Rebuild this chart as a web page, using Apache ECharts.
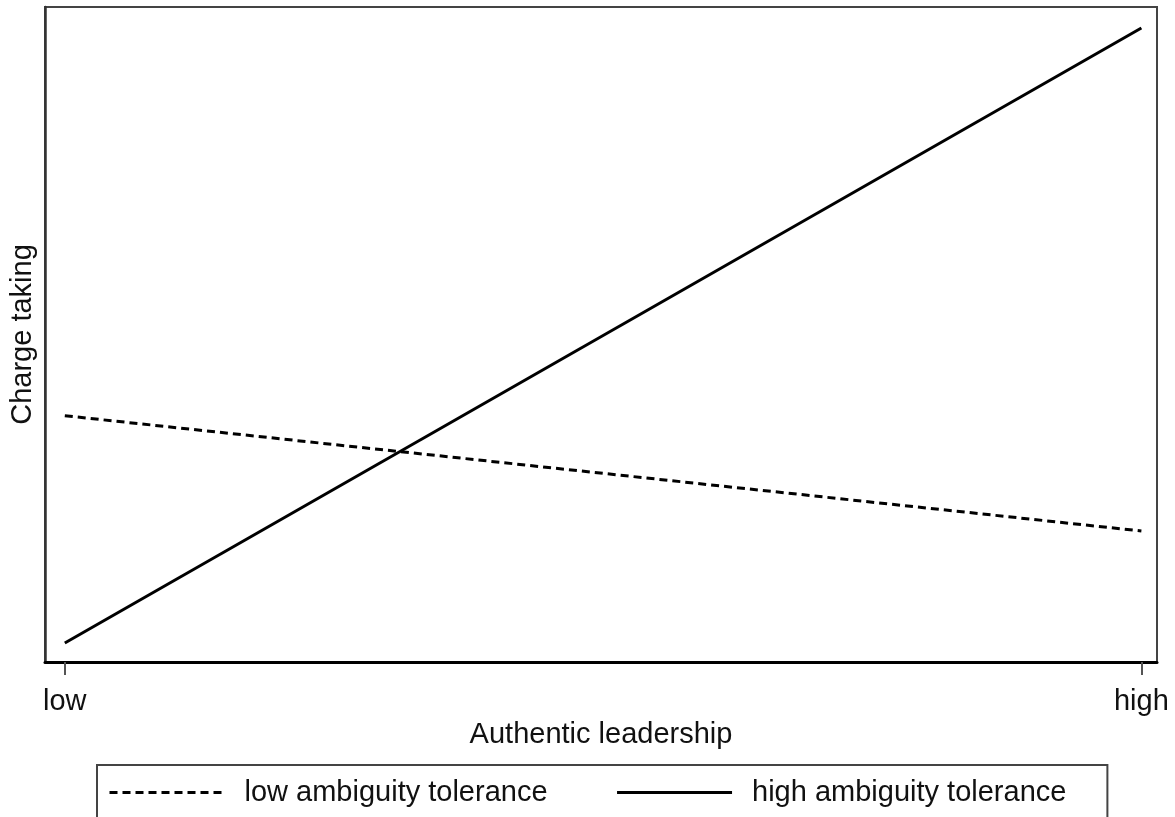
<!DOCTYPE html>
<html>
<head>
<meta charset="utf-8">
<script src="https://cdn.jsdelivr.net/npm/echarts@6/dist/echarts.min.js"></script>
<style>
html,body{margin:0;padding:0;background:#fff;}
#chart{width:1175px;height:817px;}
</style>
</head>
<body>
<div id="chart"></div>
<script>
// x positions: 0 = low, 1 = high authentic leadership
const xValues = [0, 1];
const xTickLabels = ['low', 'high'];
const seriesNames = ['low ambiguity tolerance', 'high ambiguity tolerance'];
const lowAmbiguity = [37.6, 20.0];
const highAmbiguity = [2.9, 96.8];

const FONT = 'Liberation Sans, Arial, sans-serif';
const chart = echarts.init(document.getElementById('chart'));

function toPairs(ys) { return xValues.map((x, i) => [x, ys[i]]); }

chart.setOption({
  animation: false,
  backgroundColor: '#ffffff',
  grid: {
    left: 44, right: 18, top: 7, bottom: 155,
    show: true, borderColor: '#444', borderWidth: 2
  },
  xAxis: {
    type: 'value',
    min: -0.0184, max: 1.0145,
    name: 'Authentic leadership',
    nameLocation: 'middle',
    nameGap: 52,
    nameTextStyle: { fontFamily: FONT, fontSize: 29, color: '#111' },
    axisLine: { show: true, onZero: false, lineStyle: { color: '#000', width: 3 } },
    axisTick: { show: true, customValues: xValues, length: 13, lineStyle: { color: '#555', width: 2 } },
    axisLabel: {
      customValues: xValues,
      formatter: v => xTickLabels[xValues.indexOf(v)] ?? '',
      fontFamily: FONT, fontSize: 29, color: '#111', margin: 25
    },
    splitLine: { show: false }
  },
  yAxis: {
    type: 'value',
    min: 0, max: 100,
    name: 'Charge taking',
    nameLocation: 'middle',
    nameGap: 8,
    nameTextStyle: { fontFamily: FONT, fontSize: 29, color: '#111' },
    axisLine: { show: true, onZero: false, lineStyle: { color: '#333', width: 2.5 } },
    axisTick: { show: false },
    axisLabel: { show: false },
    splitLine: { show: false }
  },
  legend: {
    left: 97, top: 765,
    orient: 'horizontal',
    itemWidth: 115, itemHeight: 14, itemGap: 68,
    padding: [13, 41, 20, 11],
    borderColor: '#444', borderWidth: 2,
    itemStyle: { opacity: 0 },
    lineStyle: { width: 3 },
    textStyle: { fontFamily: FONT, fontSize: 29, color: '#111', padding: [0, 0, 0, 15] },
    data: seriesNames
  },
  series: [
    {
      name: seriesNames[0], type: 'line', data: toPairs(lowAmbiguity),
      symbol: 'none', showSymbol: false,
      lineStyle: { color: '#000', width: 3, type: [8, 5] },
      itemStyle: { color: '#000' }
    },
    {
      name: seriesNames[1], type: 'line', data: toPairs(highAmbiguity),
      symbol: 'none', showSymbol: false,
      lineStyle: { color: '#000', width: 3, type: 'solid' },
      itemStyle: { color: '#000' }
    }
  ]
});
</script>
</body>
</html>
